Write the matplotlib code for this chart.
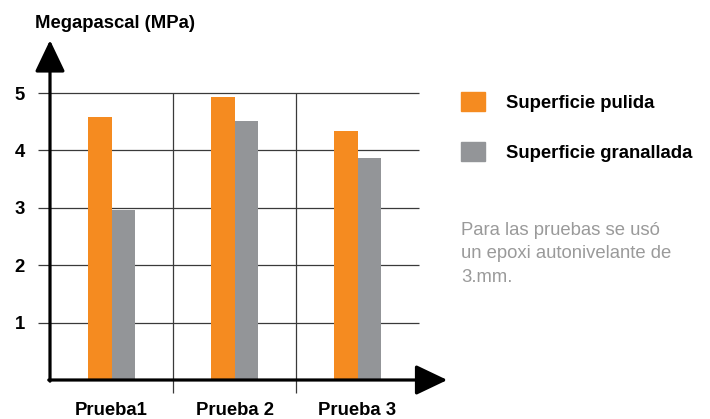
import matplotlib.pyplot as plt
from matplotlib.patches import Patch

plt.rcParams['font.family'] = ['Liberation Sans', 'DejaVu Sans']

categories = ['Prueba1', 'Prueba 2', 'Prueba 3']
pulida = [4.58, 4.93, 4.34]
granallada = [2.96, 4.51, 3.87]
yticks = [1, 2, 3, 4, 5]
series_names = ['Superficie pulida', 'Superficie granallada']
ylabel = 'Megapascal (MPa)'
note = 'Para las pruebas se usó\nun epoxi autonivelante de\n3.mm.'

orange = '#F58B20'
grey = '#939598'
fs = 13.3

W, H = 710, 419
fig = plt.figure(figsize=(W / 100, H / 100), dpi=100)
ax = fig.add_axes([50 / W, (H - 380) / H, 369 / W, 287 / H])
ax.set_xlim(-0.5, 2.5)
ax.set_ylim(0, 5)

x = list(range(len(categories)))
bw = 0.187
ax.bar([i - bw / 2 for i in x], pulida, bw, color=orange, zorder=3)
ax.bar([i + bw / 2 for i in x], granallada, bw, color=grey, zorder=3)

# grid
ax.hlines(yticks, -0.6, 2.5, color='#3a3a3a', lw=0.9, clip_on=False, zorder=1)
ax.vlines([0.5, 1.5], -0.23, 5, color='#3a3a3a', lw=0.9, clip_on=False, zorder=1)

for s in ax.spines.values():
    s.set_visible(False)

# arrow axes
style = '-|>,head_length=19.5,head_width=9.3'
ax.annotate('', xy=(-0.5, 5.92), xytext=(-0.5, -0.02), annotation_clip=False,
            arrowprops=dict(arrowstyle=style, mutation_scale=1, lw=2.3,
                            color='black', shrinkA=0, shrinkB=0))
ax.annotate('', xy=(2.73, 0), xytext=(-0.51, 0), annotation_clip=False,
            arrowprops=dict(arrowstyle=style, mutation_scale=1, lw=2.3,
                            color='black', shrinkA=0, shrinkB=0))

ax.set_yticks(yticks)
ax.set_yticklabels([str(t) for t in yticks], fontweight='bold', fontsize=fs)
ax.set_xticks(x)
ax.set_xticklabels(categories, fontweight='bold', fontsize=fs)
ax.tick_params(axis='y', length=0, pad=18)
ax.tick_params(axis='x', length=0, pad=16)

fig.text(35 / W, 1 - 24 / H, ylabel, fontweight='bold', fontsize=fs,
         ha='left', va='center')

handles = [Patch(color=orange), Patch(color=grey)]
fig.legend(handles, series_names, loc='upper left',
           bbox_to_anchor=(461 / W, 1 - 92 / H), frameon=False,
           borderpad=0, borderaxespad=0, handlelength=1.29, handleheight=1.24,
           handletextpad=1.13, labelspacing=1.62,
           prop=dict(weight='bold', size=fs))

fig.text(461 / W, 1 - 222 / H, note, fontsize=fs, color='#9a9a9a',
         ha='left', va='top', linespacing=1.5)

fig.savefig('out.png', dpi=100)
